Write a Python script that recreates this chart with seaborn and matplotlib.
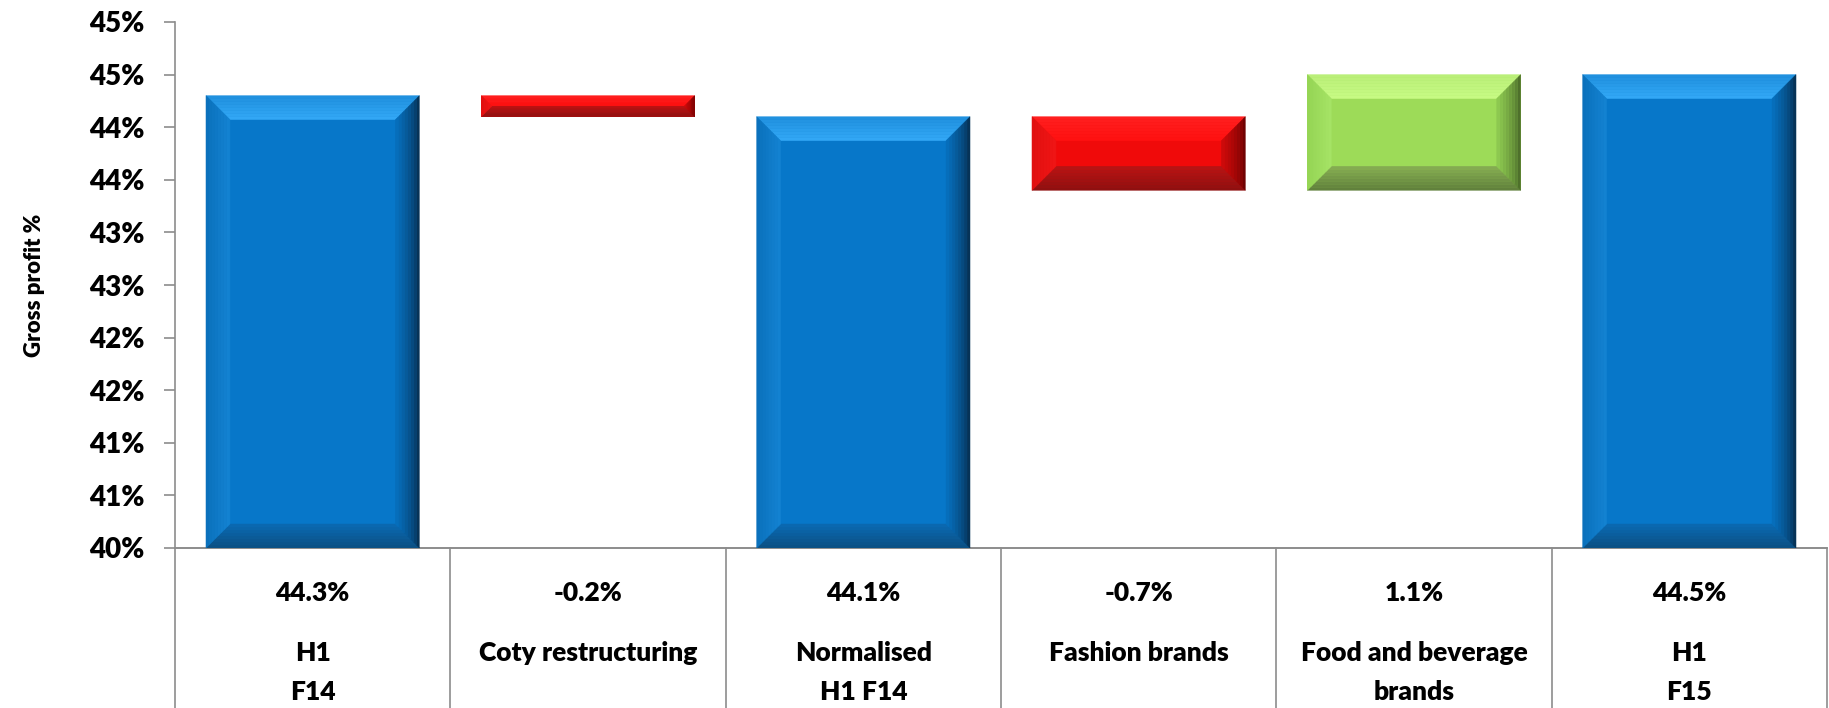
import math
import numpy as np
import pandas as pd
import matplotlib
matplotlib.use("Agg")
import matplotlib.pyplot as plt
from matplotlib.patches import Polygon
from matplotlib.colors import to_rgb
from matplotlib.ticker import FuncFormatter
import seaborn as sns

# ---- data ---------------------------------------------------------------
categories = ["H1\nF14", "Coty restructuring", "Normalised\nH1 F14",
              "Fashion brands", "Food and beverage\nbrands", "H1\nF15"]
values = [44.3, -0.2, 44.1, -0.7, 1.1, 44.5]
kinds = ["total", "delta", "total", "delta", "delta", "total"]
y_ticks = [40.0, 40.5, 41.0, 41.5, 42.0, 42.5, 43.0, 43.5, 44.0, 44.5, 45.0]

# ---- waterfall geometry -------------------------------------------------
bottoms, tops, styles = [], [], []
running = 0.0
for v, k in zip(values, kinds):
    if k == "total":
        running = v
        bottoms.append(0.0)
        tops.append(v)
        styles.append("blue")
    else:
        start = running
        running = start + v
        bottoms.append(min(start, running))
        tops.append(max(start, running))
        styles.append("green" if v > 0 else "red")

# bevel shading: base, (top outer, top inner), (left outer, left inner),
# (right outer, right inner), (bottom outer, bottom inner)
SHADES = {
    "blue": dict(base="#0777C9", top=("#1F8FDD", "#33A9F7"),
                 left=("#0A70BA", "#1483D3"), right=("#06243F", "#0671C0"),
                 bottom=("#0B4F82", "#0A6AB3")),
    "red": dict(base="#F00A0A", top=("#FF2020", "#FF1010"),
                left=("#E01010", "#F01515"), right=("#5A0000", "#D00A0A"),
                bottom=("#8C1010", "#B81414")),
    "green": dict(base="#9DDB58", top=("#B9EE78", "#C8FB84"),
                  left=("#94D454", "#A6E466"), right=("#3E5A22", "#90CC52"),
                  bottom=("#5E7E3A", "#86AE52")),
}

df = pd.DataFrame({"category": categories, "top": tops})
palette = [SHADES[s]["base"] for s in styles]

# ---- figure -------------------------------------------------------------
sns.set_theme(style="white")
plt.rcParams["font.family"] = ["Lato", "DejaVu Sans"]
plt.rcParams["font.weight"] = "bold"

fig = plt.figure(figsize=(18.29, 7.08), dpi=100)
ax = fig.add_axes([175 / 1829, 160 / 708, 1652 / 1829, 526 / 708])

sns.barplot(data=df, x="category", y="top", hue="category", palette=palette,
            order=categories, hue_order=categories, legend=False,
            width=0.775, saturation=1, ax=ax, linewidth=0)

ax.set_xlim(-0.5, len(categories) - 0.5)
ax.set_ylim(40, 45)

# floating bars start at their running bottom
bars = sorted(ax.patches, key=lambda p: p.get_x())
for bar, b, t in zip(bars, bottoms, tops):
    if b > 0:
        bar.set_y(b)
        bar.set_height(t - b)


def mix(c1, c2, t):
    a, b = np.array(to_rgb(c1)), np.array(to_rgb(c2))
    return tuple(a + (b - a) * t)


def add_bevel(bar, shade, size_px=24, steps=8):
    x0, y0 = bar.get_x(), max(bar.get_y(), 40)
    x1, y1 = x0 + bar.get_width(), bar.get_y() + bar.get_height()
    (px0, py0), (px1, py1) = ax.transData.transform([(x0, y0), (x1, y1)])
    b = min(size_px, (py1 - py0) / 2, (px1 - px0) / 2)
    inv = ax.transData.inverted()
    offs = np.linspace(0, b, steps + 1)
    for i in range(steps):
        d0, d1 = offs[i], offs[i + 1]
        t = (i + 0.5) / steps
        sides = {
            "top": [(px0 + d0, py1 - d0), (px1 - d0, py1 - d0),
                    (px1 - d1, py1 - d1), (px0 + d1, py1 - d1)],
            "bottom": [(px0 + d0, py0 + d0), (px1 - d0, py0 + d0),
                       (px1 - d1, py0 + d1), (px0 + d1, py0 + d1)],
            "left": [(px0 + d0, py0 + d0), (px0 + d1, py0 + d1),
                     (px0 + d1, py1 - d1), (px0 + d0, py1 - d0)],
            "right": [(px1 - d0, py0 + d0), (px1 - d1, py0 + d1),
                      (px1 - d1, py1 - d1), (px1 - d0, py1 - d0)],
        }
        for side, pts in sides.items():
            outer, inner = shade[side]
            tt = t if side != "right" else t ** 0.6
            col = mix(outer, inner, tt)
            poly = Polygon(inv.transform(pts), closed=True, facecolor=col,
                           edgecolor=col, linewidth=0.3, zorder=3)
            ax.add_patch(poly)


for bar, s in zip(bars, styles):
    add_bevel(bar, SHADES[s])

# ---- axes styling -------------------------------------------------------
grey = "#8C8C8C"
ax.set_yticks(y_ticks)
ax.yaxis.set_major_formatter(
    FuncFormatter(lambda v, _: f"{int(math.floor(v + 0.5))}%"))
ax.tick_params(axis="y", which="major", left=True, length=8, width=1.2,
               color=grey, pad=14, labelsize=20, labelcolor="#000000")
for lbl in ax.get_yticklabels():
    lbl.set_fontweight("heavy")
ax.tick_params(axis="x", bottom=False, labelbottom=False)
for side in ("top", "right"):
    ax.spines[side].set_visible(False)
for side in ("left", "bottom"):
    ax.spines[side].set_color(grey)
    ax.spines[side].set_linewidth(1.2)
ax.set_xlabel("")
ax.set_ylabel("Gross profit %", fontsize=16, labelpad=32, color="#000000")
ax.yaxis.label.set_fontweight("heavy")

# ---- data table under the axis -----------------------------------------
table_bottom = -160 / 526
ax.plot([-0.5, len(categories) - 0.5], [0, 0], color=grey, lw=1.2,
        transform=ax.get_xaxis_transform(), clip_on=False)
for xb in np.arange(-0.5, len(categories), 1.0):
    ax.plot([xb, xb], [0, table_bottom], color=grey, lw=1.2,
            transform=ax.get_xaxis_transform(), clip_on=False)

trans = ax.get_xaxis_transform()
for i, (cat, v) in enumerate(zip(categories, values)):
    ax.text(i, -45 / 526, f"{v:.1f}%", ha="center", va="center",
            fontsize=19, fontweight="heavy", transform=trans, color="#000000")
    for j, line in enumerate(cat.split("\n")):
        ax.text(i, (-105 - 39 * j) / 526, line, ha="center", va="center",
                fontsize=19, fontweight="heavy", transform=trans,
                color="#000000")

fig.savefig("out.png", dpi=100, facecolor="white")
